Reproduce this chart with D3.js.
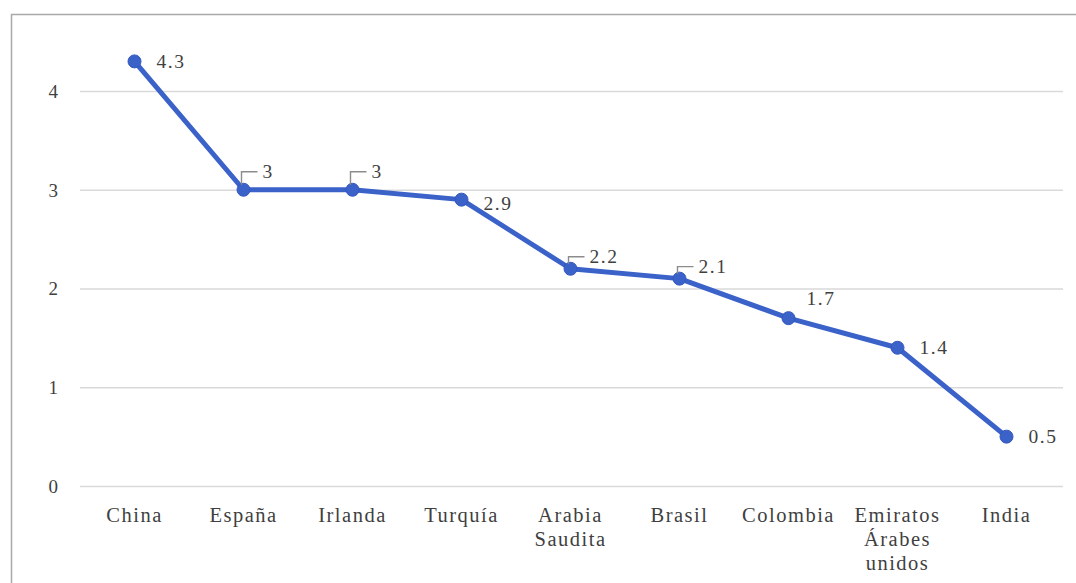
<!DOCTYPE html>
<html>
<head>
<meta charset="utf-8">
<script src="https://cdn.jsdelivr.net/npm/d3@7"></script>
<style>
  html, body { margin: 0; padding: 0; background: #ffffff; }
  svg { display: block; }
  svg text { font-family: "Liberation Serif", "Times New Roman", serif !important; fill: #3f3f3f; }
</style>
</head>
<body>
<svg id="chart" width="1076" height="583"></svg>
<script>
// Country categories (multi-line labels split with "\n")
const countries = ["China", "España", "Irlanda", "Turquía", "Arabia\nSaudita", "Brasil", "Colombia", "Emiratos\nÁrabes\nunidos", "India"];
// Series values
const values = [4.3, 3, 3, 2.9, 2.2, 2.1, 1.7, 1.4, 0.5];
// Y axis ticks
const yTicks = [0, 1, 2, 3, 4];
// Data label placement: "right", "below", "above", "leader" / "leaderShort" (above-right with a callout line)
const labelPlacement = ["right", "leader", "leader", "below", "leaderShort", "leaderShort", "above", "right", "right"];

const svg = d3.select("#chart");
const W = 1076, H = 583;
const plot = { left: 80, right: 1061, top: 51, bottom: 486 };

// Outer frame (left and top edges visible)
svg.append("path")
  .attr("d", `M11.5,${H} L11.5,14.5 L${W},14.5`)
  .attr("fill", "none")
  .attr("stroke", "#a9a9a9")
  .attr("stroke-width", 1.5);

const x = d3.scaleBand().domain(countries).range([plot.left, plot.right]);
const y = d3.scaleLinear().domain([0, 4.4]).range([plot.bottom, plot.bottom - 4.4 * 98.75]);

// Horizontal gridlines
svg.append("g").selectAll("line").data(yTicks).join("line")
  .attr("x1", plot.left).attr("x2", plot.right + 2)
  .attr("y1", d => y(d) + 0.5).attr("y2", d => y(d) + 0.5)
  .attr("stroke", "#d9d9d9").attr("stroke-width", 1.3);

// Y axis labels
const yAxis = d3.axisLeft(y).tickValues(yTicks).tickSize(0).tickPadding(0).tickFormat(d3.format("d"));
const gy = svg.append("g").attr("transform", `translate(58,0)`).call(yAxis);
gy.select(".domain").remove();
gy.selectAll("text")
  .attr("font-size", 19)
  .attr("fill", "#3f3f3f")
  .attr("dy", "0.33em");

// X axis labels
const xg = svg.append("g");
countries.forEach(c => {
  const t = xg.append("text")
    .attr("x", x(c) + x.bandwidth() / 2)
    .attr("y", 522)
    .attr("text-anchor", "middle")
    .attr("font-size", 20.5)
    .attr("letter-spacing", 1.5);
  c.split("\n").forEach((line, i) => {
    t.append("tspan")
      .attr("x", x(c) + x.bandwidth() / 2)
      .attr("dy", i === 0 ? 0 : 24)
      .text(line);
  });
});

const cx = (d, i) => x(countries[i]) + x.bandwidth() / 2;
const lineColor = "#3a62c9";

// Series line
const line = d3.line().x((d, i) => cx(d, i)).y(d => y(d));
svg.append("path")
  .datum(values)
  .attr("d", line)
  .attr("fill", "none")
  .attr("stroke", lineColor)
  .attr("stroke-width", 5)
  .attr("stroke-linejoin", "round");

// Markers
svg.append("g").selectAll("circle").data(values).join("circle")
  .attr("cx", (d, i) => cx(d, i))
  .attr("cy", d => y(d))
  .attr("r", 6.5)
  .attr("fill", lineColor)
  .attr("stroke", "#3558bd")
  .attr("stroke-width", 1);

// Data labels
const lab = svg.append("g");
values.forEach((v, i) => {
  const px = cx(v, i), py = y(v);
  const place = labelPlacement[i];
  let tx, ty;
  if (place === "right") { tx = px + 22; ty = py; }
  else if (place === "below") { tx = px + 22; ty = py + 4; }
  else if (place === "above") { tx = px + 18; ty = py - 20; }
  else {
    const rise = place === "leader" ? 18 : 12;
    tx = px + 19; ty = py - rise;
    // callout leader: short vertical tick rising from the marker, then across to the text
    lab.append("path")
      .attr("d", `M${px - 2},${py - 5} L${px - 2},${py - rise} L${px + 14},${py - rise}`)
      .attr("fill", "none")
      .attr("stroke", "#8c8c8c")
      .attr("stroke-width", 1.4);
  }
  lab.append("text")
    .attr("x", tx)
    .attr("y", ty)
    .attr("dy", "0.33em")
    .attr("font-size", 19.5)
    .attr("letter-spacing", 1.5)
    .text(d3.format("~g")(v));
});
</script>
</body>
</html>
